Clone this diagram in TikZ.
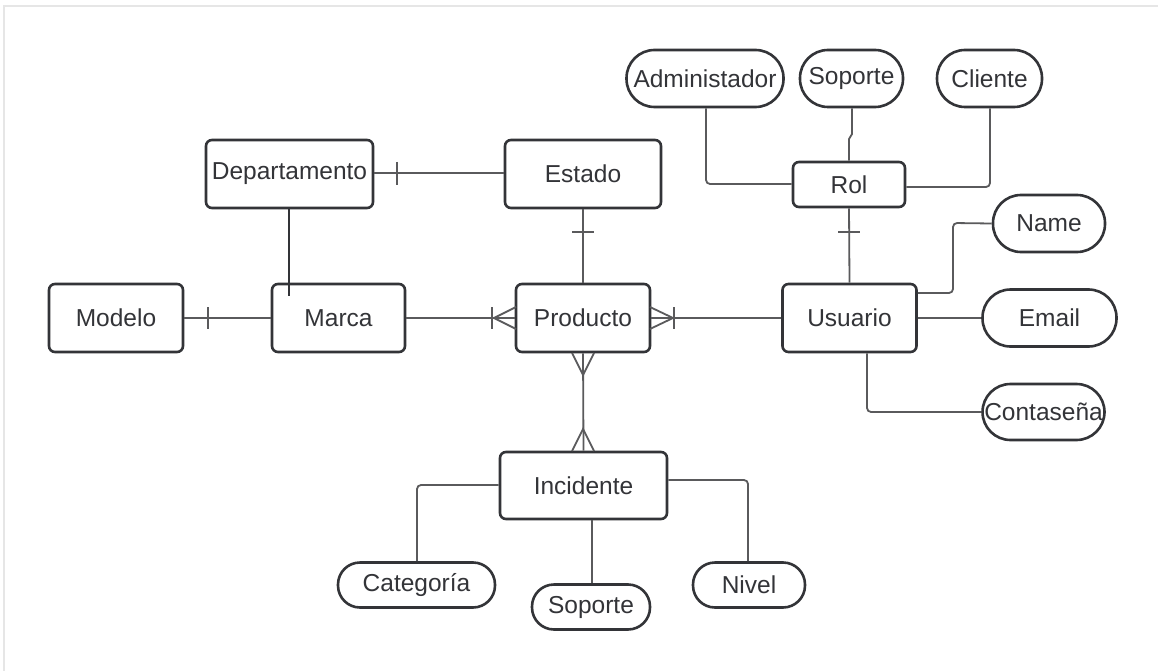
\documentclass[tikz,border=0pt]{standalone}
\usepackage{fontspec}
\setmainfont{Liberation Sans}
\usetikzlibrary{calc}
\definecolor{boxc}{HTML}{333438}
\definecolor{linec}{HTML}{5A5A5C}
\definecolor{framec}{HTML}{E6E6E6}
\begin{document}
\begin{tikzpicture}[x=1pt,y=-1pt,
  ent/.style={draw=boxc,line width=2.6pt,rounded corners=6pt,fill=white,
    inner sep=0pt,font=\fontsize{24.5}{24.5}\selectfont,text=boxc},
  attr/.style={draw=boxc,line width=2.6pt,fill=white,
    inner sep=0pt,font=\fontsize{24.5}{24.5}\selectfont,text=boxc},
  conn/.style={draw=linec,line width=1.8pt,rounded corners=4pt},
  tick/.style={draw=linec,line width=1.8pt}]
\useasboundingbox (0,0) rectangle (1158,671);
\fill[white] (0,0) rectangle (1158,671);
\draw[framec,line width=2pt] (4,671) -- (4,6) -- (1158,6);

\coordinate (dm) at (289,296);
\coordinate (xAdm) at (706,184);
\coordinate (xSop1) at (852,134);
\coordinate (xSop2) at (849,139);
\coordinate (xCli) at (990,187);
\coordinate (xNa) at (953,293);
\coordinate (xNb) at (953,223);
\coordinate (xCo) at (867,412);
\coordinate (xCa) at (417,485);
\coordinate (xNi) at (748,480);
\coordinate (xSo) at (592,560);

% entities
\node[ent,minimum width=167pt,minimum height=68pt] (dep) at (289.5,174) {Departamento};
\node[ent,minimum width=156pt,minimum height=68pt] (est) at (583,174) {Estado};
\node[ent,minimum width=134pt,minimum height=68pt] (mod) at (116,318) {Modelo};
\node[ent,minimum width=133pt,minimum height=68pt] (mar) at (338.5,318) {Marca};
\node[ent,minimum width=134pt,minimum height=68pt] (pro) at (583,318) {Producto};
\node[ent,minimum width=134pt,minimum height=68pt] (usu) at (849.5,318) {Usuario};
\node[ent,minimum width=167pt,minimum height=67pt] (inc) at (583.5,485.5) {Incidente};
\node[ent,minimum width=112pt,minimum height=45pt] (rol) at (849,184.5) {Rol};

% attributes
\node[attr,rounded corners=28pt,minimum width=157pt,minimum height=57pt] (adm) at (705,78.5) {Administador};
\node[attr,rounded corners=28pt,minimum width=103pt,minimum height=57pt] (sop1) at (851.5,78.5) {Soporte};
\node[attr,rounded corners=28pt,minimum width=105pt,minimum height=57pt] (cli) at (989.5,78.5) {Cliente};
\node[attr,rounded corners=28pt,minimum width=112pt,minimum height=57pt] (nam) at (1049,223.5) {Name};
\node[attr,rounded corners=28pt,minimum width=134pt,minimum height=57pt] (ema) at (1049.5,318) {Email};
\node[attr,rounded corners=28pt,minimum width=122pt,minimum height=56pt] (con) at (1043.5,412) {Contaseña};
\node[attr,rounded corners=22pt,minimum width=157pt,minimum height=45pt] (cat) at (416.5,585) {Categoría};
\node[attr,rounded corners=22pt,minimum width=118pt,minimum height=45pt] (sop2) at (591,607) {Soporte};
\node[attr,rounded corners=22pt,minimum width=112pt,minimum height=45pt] (niv) at (749,585) {Nivel};

% connectors
\draw[conn] (dep.east |- 0,173) -- (est.west |- 0,173);
\draw[tick] (397,162) -- (397,185);
\draw[draw=boxc,line width=2pt] (dep.south -| dm) -- (dm);
\draw[conn] (est.south) -- (pro.north);
\draw[tick] (572,232) -- (594,232);
\draw[conn] (mod.east) -- (mar.west);
\draw[tick] (208,307) -- (208,329);
\draw[conn] (mar.east) -- (pro.west);
\draw[tick] (492,307) -- (492,329);
\draw[tick] (516,307) -- (494,318) -- (516,329);
\draw[conn] (pro.east) -- (usu.west);
\draw[tick] (674,307) -- (674,329);
\draw[tick] (650,307) -- (673,318) -- (650,329);
\draw[conn] (pro.south) -- (inc.north);
\draw[tick] (572,353) -- (583,375) -- (594,353);
\draw[tick] (572,451) -- (583,429) -- (594,451);
\draw[conn] (adm.south -| xAdm) -- (xAdm) -- (rol.west |- xAdm);
\draw[conn,rounded corners=0pt] (sop1.south -| xSop1) -- (xSop1) -- (xSop2) -- (rol.north -| xSop2);
\draw[conn] (cli.south -| xCli) -- (xCli) -- (rol.east |- xCli);
\draw[conn] (rol.south) -- (usu.north);
\draw[tick] (838,232) -- (860,232);
\draw[conn] (usu.east |- xNa) -- (xNa) -- (xNb) -- (nam.west);
\draw[conn] (usu.east) -- (ema.west);
\draw[conn] (usu.south -| xCo) -- (xCo) -- (con.west);
\draw[conn] (inc.west |- xCa) -- (xCa) -- (cat.north -| xCa);
\draw[conn] (inc.south -| xSo) -- (sop2.north -| xSo);
\draw[conn] (inc.east |- xNi) -- (xNi) -- (niv.north -| xNi);
\end{tikzpicture}
\end{document}
